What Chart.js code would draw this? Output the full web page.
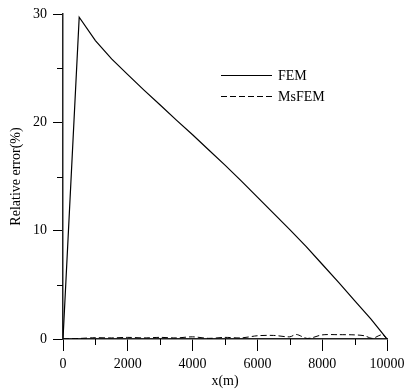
<!DOCTYPE html>
<html lang="en">
<head>
    <meta charset="UTF-8">
    <title>Relative error FEM vs MsFEM</title>
    <script src="https://cdn.jsdelivr.net/npm/chart.js"></script>
    <style>
        html, body { margin: 0; padding: 0; background: white; }
        #wrap { width: 404px; height: 391px; }
    </style>
</head>
<body>
    <div id="wrap"><canvas id="errChart" width="404" height="391"></canvas></div>
    <script>
        const femX = [0, 500, 1000, 1500, 2000, 2500, 3000, 3500, 4000, 4500, 5000, 5500, 6000, 6500, 7000, 7500, 8000, 8500, 9000, 9500, 10000];
        const femY = [0, 29.7, 27.55, 25.85, 24.4, 22.97, 21.6, 20.2, 18.85, 17.45, 16.05, 14.6, 13.1, 11.6, 10.1, 8.55, 6.9, 5.25, 3.55, 1.85, 0];
        const msX = [0, 500, 1000, 1500, 2000, 2500, 3000, 3500, 4000, 4500, 5000, 5500, 6000, 6500, 7000, 7200, 7550, 8000, 8500, 9000, 9300, 9550, 9850, 10000];
        const msY = [0, 0.05, 0.12, 0.1, 0.15, 0.1, 0.15, 0.1, 0.2, 0.06, 0.15, 0.1, 0.3, 0.33, 0.2, 0.42, 0.05, 0.38, 0.4, 0.38, 0.3, 0.06, 0.4, 0];
        const seriesNames = ["FEM", "MsFEM"];
        const xTicks = [0, 2000, 4000, 6000, 8000, 10000];
        const yTicks = [0, 10, 20, 30];

        const serif = "'Liberation Serif', 'DejaVu Serif', serif";

        const toPoints = (xs, ys) => xs.map((x, i) => ({ x, y: ys[i] }));

        // minor ticks and the legend are drawn by hand
        const extras = {
            id: "extras",
            afterDraw(chart) {
                const { ctx, scales: { x, y } } = chart;
                ctx.save();
                ctx.strokeStyle = "#000";
                ctx.lineWidth = 1;
                ctx.beginPath();
                for (let v = 1000; v < 10000; v += 2000) {
                    const px = Math.round(x.getPixelForValue(v)) + 0.5;
                    ctx.moveTo(px, y.bottom);
                    ctx.lineTo(px, y.bottom + 6);
                }
                for (let v = 5; v < 30; v += 10) {
                    const py = Math.round(y.getPixelForValue(v)) + 0.5;
                    ctx.moveTo(x.left, py);
                    ctx.lineTo(x.left - 6, py);
                }
                ctx.stroke();

                // legend
                ctx.font = "14px " + serif;
                ctx.fillStyle = "#000";
                ctx.textBaseline = "middle";
                const rows = [75, 96];
                chart.data.datasets.forEach((ds, i) => {
                    ctx.setLineDash(ds.borderDash || []);
                    ctx.lineWidth = ds.borderWidth;
                    ctx.beginPath();
                    ctx.moveTo(221, rows[i] + 0.5);
                    ctx.lineTo(272, rows[i] + 0.5);
                    ctx.stroke();
                    ctx.fillText(ds.label, 278, rows[i] + 1);
                });
                ctx.restore();
            }
        };

        new Chart(document.getElementById("errChart"), {
            type: "line",
            data: {
                datasets: [
                    {
                        label: seriesNames[0],
                        data: toPoints(femX, femY),
                        borderColor: "#000",
                        borderWidth: 1.2,
                        pointRadius: 0,
                        tension: 0,
                        fill: false
                    },
                    {
                        label: seriesNames[1],
                        data: toPoints(msX, msY),
                        borderColor: "#000",
                        borderWidth: 1,
                        borderDash: [6, 3],
                        pointRadius: 0,
                        tension: 0.3,
                        fill: false
                    }
                ]
            },
            options: {
                responsive: false,
                animation: false,
                events: [],
                layout: { padding: { top: 14, right: 17, left: 0, bottom: 0 } },
                plugins: { legend: { display: false }, tooltip: { enabled: false } },
                scales: {
                    x: {
                        type: "linear",
                        min: 0,
                        max: 10000,
                        afterFit: (s) => { s.height = 52; s.paddingRight = 0; s.paddingLeft = 0; },
                        afterBuildTicks: (s) => { s.ticks = xTicks.map(v => ({ value: v })); },
                        ticks: {
                            color: "#000",
                            font: { family: serif, size: 14 },
                            padding: 5,
                            maxRotation: 0,
                            autoSkip: false,
                            callback: (v) => String(v)
                        },
                        grid: { drawOnChartArea: false, drawTicks: true, tickLength: 12, color: "#000", lineWidth: 1 },
                        border: { display: true, color: "#222", width: 1.5 },
                        title: {
                            display: true,
                            text: "x(m)",
                            color: "#000",
                            font: { family: serif, size: 14 },
                            padding: { top: 0, bottom: 1 }
                        }
                    },
                    y: {
                        type: "linear",
                        min: 0,
                        max: 30,
                        afterFit: (s) => { s.width = 63; s.paddingTop = 0; s.paddingBottom = 0; },
                        afterBuildTicks: (s) => { s.ticks = yTicks.map(v => ({ value: v })); },
                        ticks: {
                            color: "#000",
                            font: { family: serif, size: 14 },
                            padding: 6,
                            autoSkip: false,
                            callback: (v) => String(v)
                        },
                        grid: { drawOnChartArea: false, drawTicks: true, tickLength: 10, color: "#000", lineWidth: 1 },
                        border: { display: true, color: "#222", width: 1.5 },
                        title: {
                            display: true,
                            text: "Relative error(%)",
                            color: "#000",
                            font: { family: serif, size: 14 },
                            padding: { top: 8, bottom: 0 }
                        }
                    }
                }
            },
            plugins: [extras]
        });
    </script>
</body>
</html>
